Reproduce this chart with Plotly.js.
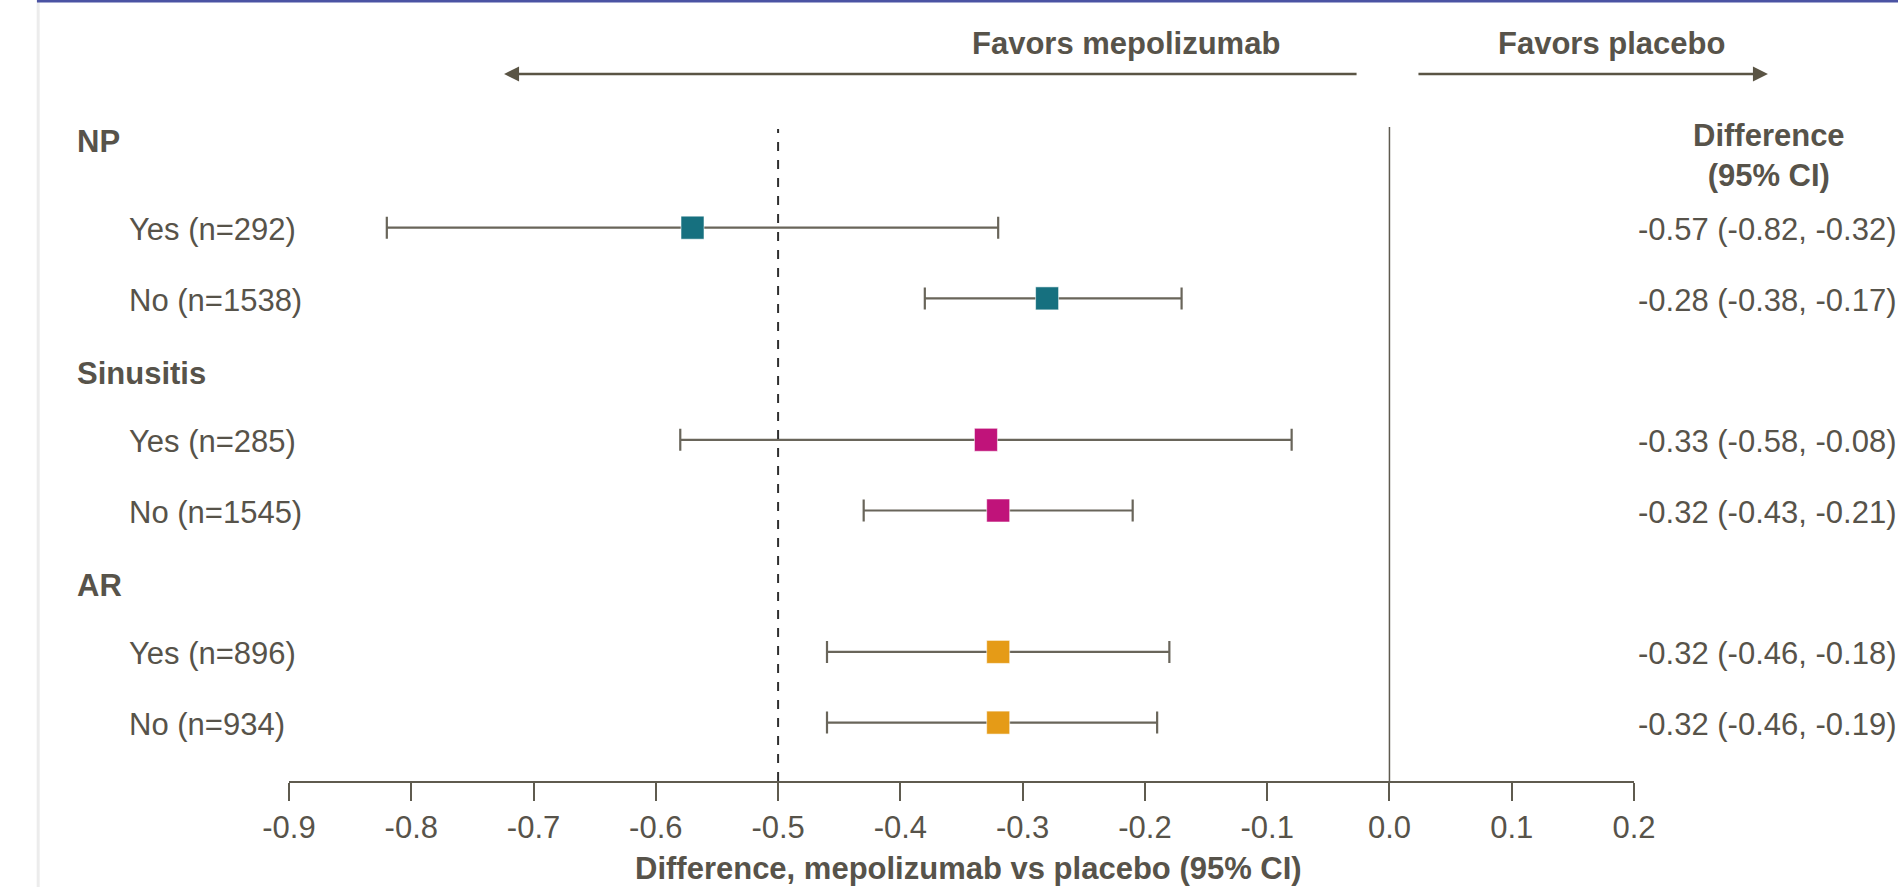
<!DOCTYPE html>
<html>
<head>
<meta charset="utf-8">
<script src="https://cdn.plot.ly/plotly-3.0.1.min.js"></script>
<style>
  html, body { margin: 0; padding: 0; background: #ffffff; }
  #chart { width: 1898px; height: 887px; }
</style>
</head>
<body>
<div id="chart"></div>
<script>
// ---------------- data ----------------
const groupNames = ['NP', 'Sinusitis', 'AR'];
const subLabels = ['Yes (n=292)', 'No (n=1538)', 'Yes (n=285)', 'No (n=1545)', 'Yes (n=896)', 'No (n=934)'];
const subGroup = [0, 0, 1, 1, 2, 2];
const estimates = [-0.57, -0.28, -0.33, -0.32, -0.32, -0.32];
const ciLower = [-0.82, -0.38, -0.58, -0.43, -0.46, -0.46];
const ciUpper = [-0.32, -0.17, -0.08, -0.21, -0.18, -0.19];
const groupColors = ['#16707f', '#c0137a', '#e59b17'];
const xTickVals = [-0.9, -0.8, -0.7, -0.6, -0.5, -0.4, -0.3, -0.2, -0.1, 0.0, 0.1, 0.2];
const xTickText = ['-0.9', '-0.8', '-0.7', '-0.6', '-0.5', '-0.4', '-0.3', '-0.2', '-0.1', '0.0', '0.1', '0.2'];
const refLine = -0.5;
const leftLabel = 'Favors mepolizumab';
const rightLabel = 'Favors placebo';
const axisTitle = 'Difference, mepolizumab vs placebo (95% CI)';
const diffHeader = 'Difference<br>(95% CI)';

// ---------------- styling ----------------
const TXT = '#57534a';
const LINE = '#5f5b4f';
const FONT = 'Liberation Sans, Arial, Helvetica, sans-serif';
const FS = 31;

// row index: header at 3g, subgroups after it
const rowOf = subLabels.map((_, i) => subGroup[i] * 3 + 1 + (i % 2));

const fmt = v => v.toFixed(2);
const diffText = estimates.map((e, i) => `${fmt(e)} (${fmt(ciLower[i])}, ${fmt(ciUpper[i])})`);

const trace = {
  type: 'scatter',
  mode: 'markers',
  x: estimates,
  y: rowOf,
  marker: {
    symbol: 'square',
    size: 23,
    color: subGroup.map(g => groupColors[g]),
    line: { width: 1, color: 'rgba(255,255,255,0.55)' }
  },
  error_x: {
    type: 'data',
    symmetric: false,
    array: estimates.map((e, i) => ciUpper[i] - e),
    arrayminus: estimates.map((e, i) => e - ciLower[i]),
    color: '#69655a',
    thickness: 2.2,
    width: 11
  },
  hoverinfo: 'skip',
  showlegend: false
};

const annotations = [];
// group headers
groupNames.forEach((g, k) => {
  annotations.push({
    xref: 'paper', yref: 'y', x: -0.1591, y: k * 3,
    xanchor: 'left', yanchor: 'middle', yshift: k === 0 ? 15 : -4,
    text: '<b>' + g + '</b>', showarrow: false,
    font: { family: FONT, size: FS, color: TXT }
  });
});
// sub labels and difference text
subLabels.forEach((s, i) => {
  annotations.push({
    xref: 'paper', yref: 'y', x: -0.1204, y: rowOf[i],
    xanchor: 'left', yanchor: 'middle', yshift: -2,
    text: s, showarrow: false,
    font: { family: FONT, size: FS, color: TXT }
  });
  annotations.push({
    xref: 'paper', yref: 'y', x: 1.0013, y: rowOf[i],
    xanchor: 'left', yanchor: 'middle', yshift: -2,
    text: diffText[i], showarrow: false,
    font: { family: FONT, size: FS, color: TXT }
  });
});
// Difference header
annotations.push({
  xref: 'paper', yref: 'paper', x: 1.1007, y: 0.9557,
  xanchor: 'center', yanchor: 'middle',
  text: '<b>' + diffHeader + '</b>', showarrow: false,
  font: { family: FONT, size: FS, color: TXT }
});
// Favors labels
annotations.push({
  xref: 'paper', yref: 'paper', x: 0.6223, y: 1.1284,
  xanchor: 'center', yanchor: 'middle',
  text: '<b>' + leftLabel + '</b>', showarrow: false,
  font: { family: FONT, size: FS, color: TXT }
});
annotations.push({
  xref: 'paper', yref: 'paper', x: 0.9829, y: 1.1284,
  xanchor: 'center', yanchor: 'middle',
  text: '<b>' + rightLabel + '</b>', showarrow: false,
  font: { family: FONT, size: FS, color: TXT }
});
// x-axis title, as low as possible while staying fully visible
annotations.push({
  xref: 'paper', yref: 'paper', x: 0.5055, y: -0.1621,
  xanchor: 'center', yanchor: 'bottom', borderpad: 0,
  text: '<b>' + axisTitle + '</b>', showarrow: false,
  font: { family: FONT, size: FS, color: TXT }
});
// arrows
annotations.push({
  xref: 'paper', yref: 'paper', x: 0.1599, y: 1.081,
  ax: 854, ay: 0, text: '', showarrow: true,
  arrowhead: 2, arrowsize: 1.2, arrowwidth: 2.5, arrowcolor: '#5a5444',
  standoff: 0, startstandoff: 0
});
annotations.push({
  xref: 'paper', yref: 'paper', x: 1.0996, y: 1.081,
  ax: -351, ay: 0, text: '', showarrow: true,
  arrowhead: 2, arrowsize: 1.2, arrowwidth: 2.5, arrowcolor: '#5a5444',
  standoff: 0, startstandoff: 0
});

const shapes = [
  { type: 'line', xref: 'x', yref: 'paper', x0: refLine, x1: refLine, y0: 0, y1: 0.997,
    line: { color: '#2f2f2f', width: 2, dash: 'dash' } },
  { type: 'line', xref: 'x', yref: 'paper', x0: 0, x1: 0, y0: 0, y1: 1,
    line: { color: LINE, width: 1.5 } },
  // slide decorations
  { type: 'line', xref: 'paper', yref: 'paper', x0: -0.1865, x1: -0.1865, y0: -0.2, y1: 1.2,
    line: { color: '#ececec', width: 3 } },
  { type: 'line', xref: 'paper', yref: 'paper', x0: -0.1874, x1: 1.2, y0: 1.1927, y1: 1.1927,
    line: { color: '#4b53a3', width: 3 } }
];

const layout = {
  width: 1898, height: 887,
  margin: { l: 289, r: 264, t: 127, b: 106 },
  paper_bgcolor: '#ffffff', plot_bgcolor: '#ffffff',
  font: { family: FONT, size: FS, color: TXT },
  showlegend: false,
  xaxis: {
    range: [-0.9, 0.2], tickvals: xTickVals, ticktext: xTickText,
    showgrid: false, zeroline: false,
    showline: true, linecolor: LINE, linewidth: 2,
    ticks: 'outside', ticklen: 18, tickwidth: 2, tickcolor: LINE,
    tickfont: { family: FONT, size: FS, color: TXT },
    fixedrange: true
  },
  yaxis: {
    range: [8.826, -0.424], visible: false, showgrid: false, zeroline: false, fixedrange: true
  },
  shapes: shapes,
  annotations: annotations
};

Plotly.newPlot('chart', [trace], layout, { displayModeBar: false, staticPlot: true });
</script>
</body>
</html>
